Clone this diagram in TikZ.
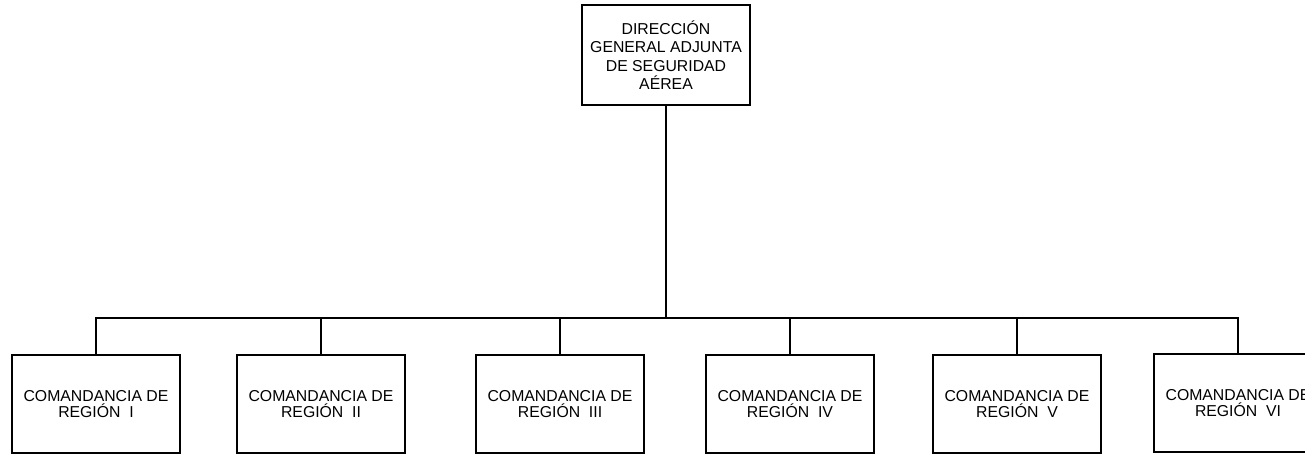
\documentclass[tikz,border=0pt]{standalone}
\usepackage{fontspec}
\setmainfont{Liberation Sans}
\tikzset{
  unit/.style={draw, line width=1.2pt, minimum width=84pt, minimum height=49pt, inner sep=0pt, align=center, font=\fontsize{7.9}{8}\selectfont},
  head/.style={unit, minimum height=50pt, font=\fontsize{7.9}{9.2}\selectfont},
  link/.style={line width=1pt}
}
\begin{document}
\begin{tikzpicture}[x=0.5pt,y=-0.5pt]
\clip (0,0) rectangle (1305,454);
\node[head] (dir) at (666,55){DIRECCIÓN\\GENERAL ADJUNTA\\DE SEGURIDAD\\AÉREA};
\node[unit] (r1) at (96,404){COMANDANCIA DE\\REGIÓN\ \ I};
\node[unit] (r2) at (321,404){COMANDANCIA DE\\REGIÓN\ \ II};
\node[unit] (r3) at (560,404){COMANDANCIA DE\\REGIÓN\ \ III};
\node[unit] (r4) at (790,404){COMANDANCIA DE\\REGIÓN\ \ IV};
\node[unit] (r5) at (1017,404){COMANDANCIA DE\\REGIÓN\ \ V};
\node[unit] (r6) at (1238,403){COMANDANCIA DE\\REGIÓN\ \ VI};
\coordinate (bus) at (666,318);
\draw[link](dir) -- (bus);
\draw[link](r1.north) |- (bus) -| (r6.north);
\draw[link](r2.north) -- (r2.north |- bus);
\draw[link](r3.north) -- (r3.north |- bus);
\draw[link](r4.north) -- (r4.north |- bus);
\draw[link](r5.north) -- (r5.north |- bus);
\end{tikzpicture}
\end{document}
